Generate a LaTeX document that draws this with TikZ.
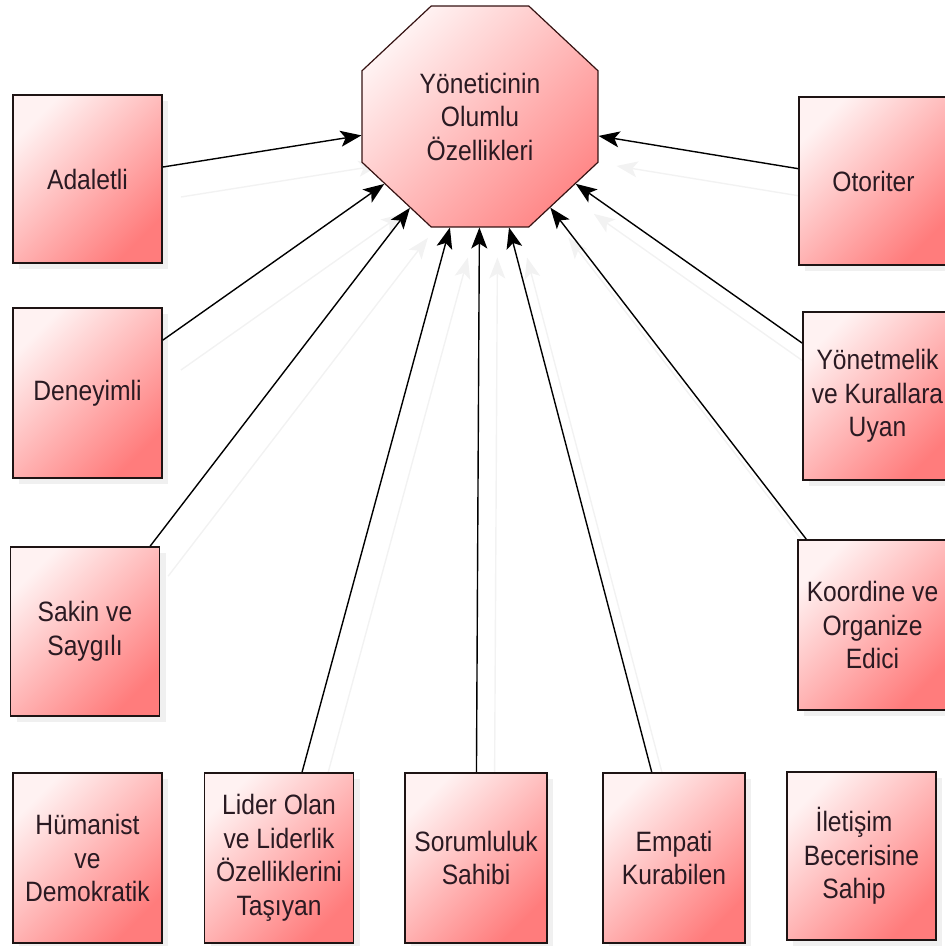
\documentclass[tikz,border=0pt]{standalone}
\usepackage{fontspec}
\setmainfont{Liberation Sans}[FakeStretch=0.88]
\usetikzlibrary{shapes.geometric, arrows.meta, shadows, backgrounds}

\definecolor{pinkL}{HTML}{FFF2F2}
\definecolor{pinkD}{HTML}{FF7C7C}
\definecolor{txt}{HTML}{2A1A22}
\definecolor{edge}{HTML}{1E1414}

\begin{document}
\begin{tikzpicture}[x=1pt,y=-1pt,
  box/.style={draw=edge, line width=1.8pt, minimum width=149pt, minimum height=169pt,
    top color=pinkL, bottom color=pinkD, shading angle=45,
    align=center, font=\fontsize{28}{33.5}\selectfont, text=txt, inner sep=0pt,
    drop shadow={shadow xshift=6pt, shadow yshift=-6pt, opacity=0.06, fill=black}},
  octbox/.style={regular polygon, regular polygon sides=8, minimum size=255.4pt, inner sep=0pt,
    draw=edge!90!red, line width=1.2pt, top color=pinkL, bottom color=pinkD!90!white, shading angle=45,
    yscale=0.936, transform shape},
  octtext/.style={align=center, font=\fontsize{28}{33.5}\selectfont, text=txt, inner sep=0pt},
  arr/.style={draw=black, line width=1.4pt, -{Stealth[length=21pt,width=16pt,inset=5pt]}},
  sharr/.style={draw=black!5, line width=1.4pt, -{Stealth[length=21pt,width=16pt,inset=5pt]},
    transform canvas={xshift=18pt, yshift=-30pt}}
]
\useasboundingbox (0,0) rectangle (945,946);

\node[octbox] (oct) at (480,116.5) {};
\node[octtext] (octT) at (480,116.5) {Yöneticinin\\Olumlu\\Özellikleri};

\node[box, minimum height=168pt] (adal) at (87.5,179) {Adaletli};
\node[box, minimum height=170pt] (deney) at (87.5,393) {Deneyimli};
\node[box] (sakin) at (85,631.5) {Sakin ve\\Saygılı};
\node[box, minimum height=170pt] (human) at (87.5,858) {Hümanist\\ve\\Demokratik};
\node[box, minimum height=170pt] (lider) at (279,858) {Lider Olan\\ve Liderlik\\Özelliklerini\\Taşıyan};
\node[box, minimum width=142pt, minimum height=170pt] (sorum) at (476,858) {Sorumluluk\\Sahibi};
\node[box, minimum width=142pt, minimum height=170pt] (empati) at (674,858) {Empati\\Kurabilen};
\node[box, minimum height=168pt] (ilet) at (861.5,856) {İletişim\hspace*{15pt}\\Becerisine\hspace*{15pt}\\Sahip\hspace*{15pt}};
\node[box, minimum height=168pt] (otor) at (873.5,181) {Otoriter};
\node[box, minimum height=168pt] (yonet) at (877.5,396) {Yönetmelik\\ve Kurallara\\Uyan};
\node[box, minimum height=170pt] (koord) at (872.5,625) {Koordine ve\\Organize\\Edici};

\begin{scope}[on background layer]
  \foreach \n in {adal,deney,sakin,lider,sorum,empati,otor,yonet,koord}
    \draw[sharr] (\n) -- (oct);
\end{scope}

\foreach \n in {adal,deney,sakin,lider,sorum,empati,otor,yonet,koord}
  \draw[arr] (\n) -- (oct);
\end{tikzpicture}
\end{document}
